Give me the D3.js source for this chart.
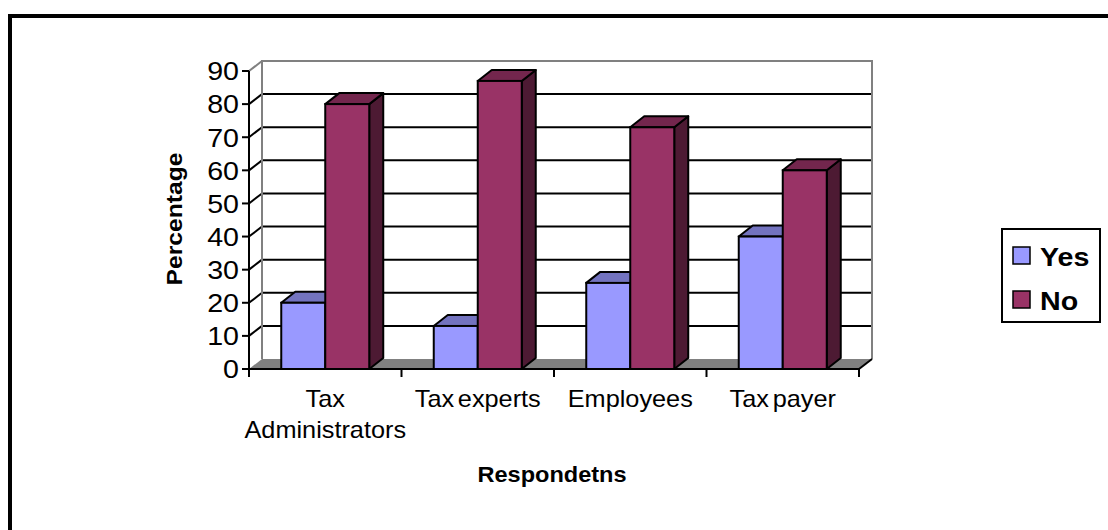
<!DOCTYPE html>
<html>
<head>
<meta charset="utf-8">
<script src="https://cdn.jsdelivr.net/npm/d3@7"></script>
<style>
  html, body { margin: 0; padding: 0; background: #fff; }
  svg { display: block; font-family: "Liberation Sans", Arial, sans-serif; }
</style>
</head>
<body>
<svg id="chart" width="1108" height="530"></svg>
<script>
// ---- Data ----
const categories = ["Tax Administrators", "Tax experts", "Employees", "Tax payer"];
const categoryLines = [["Tax", "Administrators"], ["Tax experts"], ["Employees"], ["Tax payer"]];
const seriesNames = ["Yes", "No"];
const yesValues = [20, 13, 26, 40];
const noValues = [80, 87, 73, 60];
const yTicks = [0, 10, 20, 30, 40, 50, 60, 70, 80, 90];
const xTitle = "Respondetns";
const yTitle = "Percentage";

// ---- Styles ----
const colors = {
  Yes: { front: "#9999FF", top: "#7373BF", side: "#5C5C99" },
  No:  { front: "#993366", top: "#73264D", side: "#4D1A33" }
};
const SX = 1.1; // horizontal text stretch

const svg = d3.select("#chart");

// outer frame
svg.append("rect").attr("x", 10).attr("y", 16).attr("width", 1200).attr("height", 600)
  .attr("fill", "none").attr("stroke", "#000").attr("stroke-width", 4);

// scales
const x0 = 249, x1 = 859;
const y = d3.scaleLinear().domain([0, 90]).range([369, 71]);
const xCat = d3.scaleBand().domain(categories).range([x0, x1]).paddingInner(0.423).paddingOuter(0.2115);
const xSer = d3.scaleBand().domain(seriesNames).range([0, xCat.bandwidth()]).padding(0);
const xEdge = d3.scaleLinear().domain([0, categories.length]).range([x0, x1]);

const wdx = 13, wdy = -10;   // wall depth offset
const bdx = 14, bdy = -11;   // bar depth offset

const g = svg.append("g");

// floor
g.append("polygon")
  .attr("points", [[x0, y(0)], [x1, y(0)], [x1 + wdx, y(0) + wdy], [x0 + wdx, y(0) + wdy]].map(p => p.join(",")).join(" "))
  .attr("fill", "#808080");

// back wall gridlines
g.selectAll(".grid").data(yTicks.filter(t => t > 0 && t < 90)).enter().append("line")
  .attr("x1", x0 + wdx).attr("x2", x1 + wdx)
  .attr("y1", d => y(d) + wdy).attr("y2", d => y(d) + wdy)
  .attr("stroke", "#000").attr("stroke-width", 2);

// side wall diagonals
g.selectAll(".diag").data(yTicks.filter(t => t > 0)).enter().append("line")
  .attr("x1", x0).attr("x2", x0 + wdx)
  .attr("y1", d => y(d)).attr("y2", d => y(d) + wdy)
  .attr("stroke", d => d === 90 ? "#808080" : "#000").attr("stroke-width", 2);

// back wall border (gray)
g.append("path")
  .attr("d", `M${x0 + wdx},${y(0) + wdy} V${y(90) + wdy} H${x1 + wdx} V${y(0) + wdy}`)
  .attr("fill", "none").attr("stroke", "#808080").attr("stroke-width", 2);

// floor right edge
g.append("line").attr("x1", x1).attr("y1", y(0)).attr("x2", x1 + wdx).attr("y2", y(0) + wdy)
  .attr("stroke", "#000").attr("stroke-width", 2);

// bars
const barData = [];
categories.forEach((c, i) => {
  barData.push({ cat: c, ser: "Yes", v: yesValues[i] });
  barData.push({ cat: c, ser: "No", v: noValues[i] });
});
const bars = g.selectAll(".bar").data(barData).enter().append("g");
bars.each(function (d) {
  const gb = d3.select(this);
  const bx = xCat(d.cat) + xSer(d.ser);
  const bw = xSer.bandwidth();
  const yt = y(d.v), yb = y(0);
  const c = colors[d.ser];
  gb.append("polygon")
    .attr("points", [[bx + bw, yb], [bx + bw + bdx, yb + bdy], [bx + bw + bdx, yt + bdy], [bx + bw, yt]].map(p => p.join(",")).join(" "))
    .attr("fill", c.side).attr("stroke", "#000").attr("stroke-width", 2).attr("stroke-linejoin", "round");
  gb.append("polygon")
    .attr("points", [[bx, yt], [bx + bdx, yt + bdy], [bx + bw + bdx, yt + bdy], [bx + bw, yt]].map(p => p.join(",")).join(" "))
    .attr("fill", c.top).attr("stroke", "#000").attr("stroke-width", 2).attr("stroke-linejoin", "round");
  gb.append("rect").attr("x", bx).attr("y", yt).attr("width", bw).attr("height", yb - yt)
    .attr("fill", c.front).attr("stroke", "#000").attr("stroke-width", 2);
});

// y axis
g.append("line").attr("x1", x0).attr("x2", x0).attr("y1", y(90)).attr("y2", y(0))
  .attr("stroke", "#000").attr("stroke-width", 2);
g.selectAll(".ytick").data(yTicks).enter().append("line")
  .attr("x1", x0 - 7).attr("x2", x0).attr("y1", d => y(d)).attr("y2", d => y(d))
  .attr("stroke", "#000").attr("stroke-width", 2);
g.selectAll(".ylab").data(yTicks).enter().append("text")
  .attr("transform", d => `translate(${x0 - 10},${y(d)}) scale(${SX},1)`)
  .attr("dy", "0.36em")
  .attr("text-anchor", "end").attr("font-size", 26).attr("fill", "#000")
  .text(d => d);

// x axis
g.append("line").attr("x1", x0).attr("x2", x1).attr("y1", y(0)).attr("y2", y(0))
  .attr("stroke", "#000").attr("stroke-width", 2);
g.selectAll(".xtick").data(d3.range(categories.length + 1)).enter().append("line")
  .attr("x1", d => xEdge(d)).attr("x2", d => xEdge(d)).attr("y1", y(0)).attr("y2", y(0) + 8)
  .attr("stroke", "#000").attr("stroke-width", 2);
categories.forEach((c, i) => {
  const cx = (xEdge(i) + xEdge(i + 1)) / 2;
  const t = g.append("text").attr("text-anchor", "middle").attr("font-size", 23)
    .attr("transform", `translate(${cx},407) scale(${SX},1)`)
    .attr("word-spacing", "-3px").attr("fill", "#000");
  categoryLines[i].forEach((line, j) => {
    t.append("tspan").attr("x", 0).attr("y", j * 31).text(line);
  });
});

// axis titles
svg.append("text").attr("transform", `translate(552,482) scale(1.07,1)`).attr("text-anchor", "middle")
  .attr("font-size", 22).attr("font-weight", "bold").text(xTitle);
svg.append("text").attr("transform", `translate(182,219) rotate(-90) scale(1.12,1)`).attr("text-anchor", "middle")
  .attr("font-size", 22).attr("font-weight", "bold").text(yTitle);

// legend
const lg = svg.append("g");
lg.append("rect").attr("x", 1002).attr("y", 229).attr("width", 98).attr("height", 93)
  .attr("fill", "#fff").attr("stroke", "#000").attr("stroke-width", 2);
seriesNames.forEach((s, i) => {
  lg.append("rect").attr("x", 1013).attr("y", 247 + i * 44).attr("width", 17).attr("height", 17)
    .attr("fill", colors[s].front).attr("stroke", "#000").attr("stroke-width", 1.5);
  lg.append("text").attr("transform", `translate(1040,${266 + i * 44}) scale(${SX},1)`).attr("font-size", 26)
    .attr("font-weight", "bold").text(s);
});
</script>
</body>
</html>
